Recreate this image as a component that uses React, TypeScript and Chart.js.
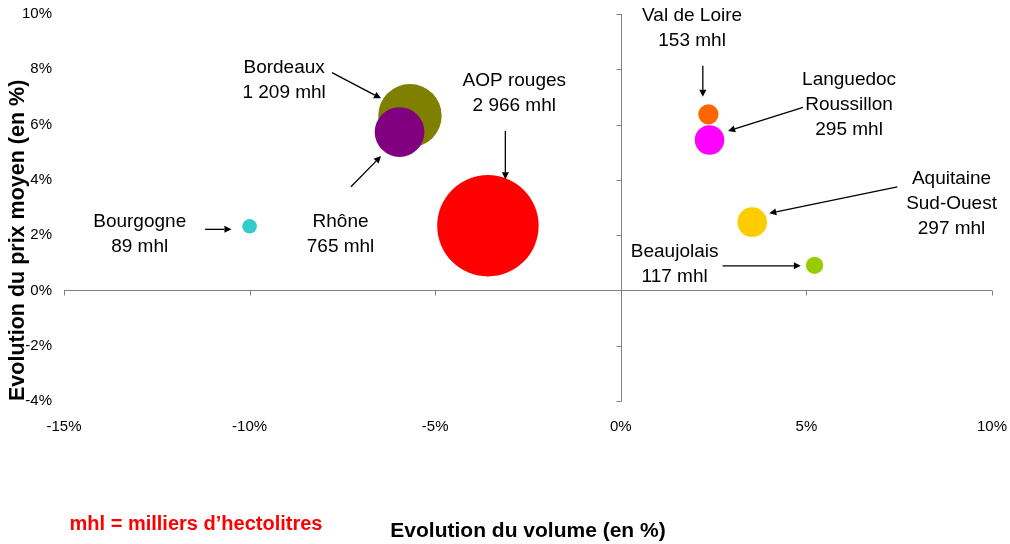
import React, { useEffect, useRef } from "react";
import { Chart, registerables } from "chart.js";

Chart.register(...registerables);

// ---- Data ----
const regions = ["Bordeaux", "Rhône", "Bourgogne", "AOP rouges", "Val de Loire", "Languedoc Roussillon", "Aquitaine Sud-Ouest", "Beaujolais"];
const labelLines = [["Bordeaux"], ["Rhône"], ["Bourgogne"], ["AOP rouges"], ["Val de Loire"], ["Languedoc", "Roussillon"], ["Aquitaine", "Sud-Ouest"], ["Beaujolais"]];
const volumeChange = [-5.68, -5.96, -10.0, -3.58, 2.36, 2.39, 3.54, 5.22];
const priceChange = [6.32, 5.73, 2.32, 2.34, 6.37, 5.44, 2.47, 0.91];
const volumes = [1209, 765, 89, 2966, 153, 295, 297, 117];
const colors = ["#808000", "#800080", "#33CCCC", "#FF0000", "#FF6600", "#FF00FF", "#FFCC00", "#99CC00"];

const xTicks = [-15, -10, -5, 0, 5, 10];
const yTicks = [-4, -2, 0, 2, 4, 6, 8, 10];

// annotation label block centres (data units)
const labelX = [-9.07, -7.55, -12.96, -2.87, 1.92, 6.15, 8.91, 1.45];
const labelY = [7.59, 2.04, 2.03, 7.13, 9.47, 6.71, 3.14, 0.95];
// arrows: from (data) -> to (data)
const arrowFromX = [-7.78, -7.27, -11.2, -3.11, 2.21, 4.91, 7.45, 2.74];
const arrowFromY = [7.88, 3.75, 2.21, 5.77, 8.13, 6.62, 3.75, 0.89];
const arrowToX = [-6.46, -6.46, -10.49, -3.11, 2.21, 2.89, 4.0, 4.85];
const arrowToY = [6.95, 4.86, 2.21, 4.02, 7.01, 5.77, 2.79, 0.89];

const FONT = "'Liberation Sans', Arial, Helvetica, sans-serif";

const fmtVolume = (v: number) =>
  v >= 1000 ? `${Math.floor(v / 1000)} ${String(v % 1000).padStart(3, "0")} mhl` : `${v} mhl`;

const bubbleRadius = (v: number) => 0.964 * Math.sqrt(v) - 1.8;

const zeroPadding = (s: any) => {
  s.paddingTop = 0;
  s.paddingBottom = 0;
  s.paddingLeft = 0;
  s.paddingRight = 0;
};

const overlayPlugin = {
  id: "overlay",
  beforeDatasetsDraw(chart: any) {
    const { ctx, scales } = chart;
    const x = scales.x;
    const y = scales.y;
    ctx.save();
    ctx.strokeStyle = "#808080";
    ctx.lineWidth = 1;
    const y0 = Math.round(y.getPixelForValue(0)) + 0.5;
    const x0 = Math.round(x.getPixelForValue(0)) + 0.5;
    ctx.beginPath();
    ctx.moveTo(x.getPixelForValue(xTicks[0]), y0);
    ctx.lineTo(x.getPixelForValue(xTicks[xTicks.length - 1]), y0);
    xTicks.forEach((v) => {
      const px = Math.round(x.getPixelForValue(v)) + 0.5;
      ctx.moveTo(px, y0);
      ctx.lineTo(px, y0 + 5);
    });
    ctx.moveTo(x0, y.getPixelForValue(yTicks[yTicks.length - 1]));
    ctx.lineTo(x0, y.getPixelForValue(yTicks[0]));
    yTicks.forEach((v) => {
      const py = Math.round(y.getPixelForValue(v)) + 0.5;
      ctx.moveTo(x0 - 5, py);
      ctx.lineTo(x0, py);
    });
    ctx.stroke();
    ctx.restore();
  },
  afterDatasetsDraw(chart: any) {
    const { ctx, scales } = chart;
    const x = scales.x;
    const y = scales.y;
    ctx.save();
    // labels
    ctx.fillStyle = "#000";
    ctx.font = `19px ${FONT}`;
    ctx.textAlign = "center";
    ctx.textBaseline = "middle";
    const lh = 25;
    regions.forEach((_, i) => {
      const lines = [...labelLines[i], fmtVolume(volumes[i])];
      const cx = x.getPixelForValue(labelX[i]);
      const cy = y.getPixelForValue(labelY[i]);
      lines.forEach((t, k) => {
        ctx.fillText(t, cx, cy + (k - (lines.length - 1) / 2) * lh);
      });
    });
    // arrows
    ctx.strokeStyle = "#000";
    ctx.lineWidth = 1.3;
    regions.forEach((_, i) => {
      const x1 = x.getPixelForValue(arrowFromX[i]);
      const y1 = y.getPixelForValue(arrowFromY[i]);
      const x2 = x.getPixelForValue(arrowToX[i]);
      const y2 = y.getPixelForValue(arrowToY[i]);
      const ang = Math.atan2(y2 - y1, x2 - x1);
      const hl = 7;
      const hw = 3.5;
      const bx = x2 - hl * Math.cos(ang);
      const by = y2 - hl * Math.sin(ang);
      ctx.beginPath();
      ctx.moveTo(x1, y1);
      ctx.lineTo(bx, by);
      ctx.stroke();
      ctx.beginPath();
      ctx.moveTo(x2, y2);
      ctx.lineTo(bx + hw * Math.sin(ang), by - hw * Math.cos(ang));
      ctx.lineTo(bx - hw * Math.sin(ang), by + hw * Math.cos(ang));
      ctx.closePath();
      ctx.fill();
    });
    // note
    ctx.fillStyle = "#FF0000";
    ctx.font = `bold 20px ${FONT}`;
    ctx.textAlign = "center";
    ctx.textBaseline = "middle";
    ctx.fillText("mhl = milliers d\u2019hectolitres", chart.chartArea.left + 132, chart.height - 20);
    ctx.restore();
  },
};

export default function App() {
  const canvasRef = useRef<HTMLCanvasElement | null>(null);

  useEffect(() => {
    if (!canvasRef.current) return;
    const chart = new Chart(canvasRef.current, {
      type: "bubble",
      data: {
        datasets: [
          {
            label: "Vins AOP rouges",
            data: regions.map((_, i) => ({ x: volumeChange[i], y: priceChange[i], r: bubbleRadius(volumes[i]) })),
            backgroundColor: colors,
            borderWidth: 0,
            hoverBorderWidth: 0,
            clip: false as any,
          },
        ],
      },
      options: {
        responsive: false,
        animation: false,
        events: [],
        layout: { autoPadding: false, padding: { top: 14, right: 18, left: 0, bottom: 0 } },
        plugins: { legend: { display: false }, tooltip: { enabled: false } },
        scales: {
          x: {
            type: "linear",
            min: -15,
            max: 10,
            afterBuildTicks: (s: any) => {
              s.ticks = xTicks.map((v) => ({ value: v }));
            },
            afterFit: (s: any) => {
              s.height = 143;
              zeroPadding(s);
            },
            grid: { display: false, drawTicks: false },
            border: { display: false },
            ticks: {
              padding: 17,
              color: "#000",
              font: { size: 15, family: FONT },
              callback: (v: any) => `${v}%`,
            },
            title: {
              display: true,
              text: "Evolution du volume (en %)",
              color: "#000",
              font: { size: 21, weight: "bold", family: FONT },
              padding: { top: 0, bottom: 0 },
            },
          },
          y: {
            type: "linear",
            min: -4,
            max: 10,
            afterBuildTicks: (s: any) => {
              s.ticks = yTicks.map((v) => ({ value: v }));
            },
            afterFit: (s: any) => {
              s.width = 64;
              zeroPadding(s);
            },
            grid: { display: false, drawTicks: false },
            border: { display: false },
            ticks: {
              padding: 12,
              color: "#000",
              font: { size: 15, family: FONT },
              callback: (v: any) => `${v}%`,
            },
            title: {
              display: true,
              text: "Evolution du prix moyen (en %)",
              align: "start",
              color: "#000",
              font: { size: 21.5, weight: "bold", family: FONT },
              padding: { top: 5, bottom: 0 },
            },
          },
        },
      },
      plugins: [overlayPlugin],
    } as any);
    return () => chart.destroy();
  }, []);

  return (
    <div style={{ position: "fixed", left: 0, top: 0, width: 1010, height: 544, background: "#fff" }}>
      <canvas ref={canvasRef} width={1010} height={544} style={{ display: "block" }} />
    </div>
  );
}
